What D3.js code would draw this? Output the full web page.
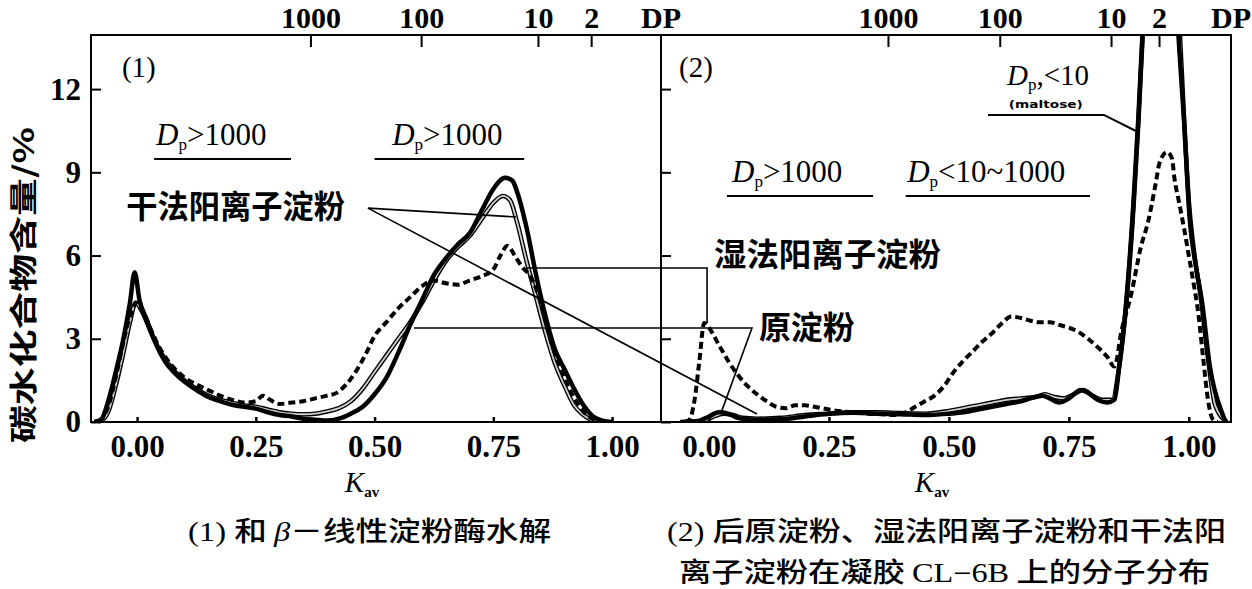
<!DOCTYPE html>
<html>
<head>
<meta charset="utf-8">
<script src="https://cdn.jsdelivr.net/npm/d3@7"></script>
<style>
  body { margin: 0; background: #fff; }
  svg { display: block; }
</style>
</head>
<body>
<div id="chart"></div>
<script>
// ---- data ----
const kTicks = [0, 0.25, 0.5, 0.75, 1.0]
const yTicks = [0, 3, 6, 9, 12]
const dpLabels = ["1000", "100", "10", "2"]
const dpPosLeft = [0.365, 0.598, 0.844, 0.956]
const dpPosRight = [0.373, 0.606, 0.838, 0.938]

// panel (1): after beta-amylase hydrolysis
const leftThickK = [-0.09,-0.075,-0.06,-0.045,-0.03,-0.015,-0.005,0.005,0.02,0.04,0.06,0.08,0.10,0.125,0.15,0.175,0.20,0.225,0.25,0.275,0.30,0.325,0.35,0.375,0.40,0.425,0.45,0.475,0.50,0.525,0.55,0.575,0.60,0.625,0.65,0.675,0.70,0.725,0.75,0.775,0.79,0.80,0.82,0.84,0.86,0.88,0.90,0.92,0.94,0.96,0.98,1.00]
const leftThickV = [0,0.1,0.8,1.8,2.9,4.3,5.4,4.4,3.7,2.8,2.15,1.75,1.45,1.15,0.9,0.75,0.62,0.55,0.48,0.35,0.25,0.2,0.12,0.08,0.05,0.12,0.3,0.55,1.0,1.6,2.5,3.5,4.4,5.3,5.9,6.4,6.8,7.6,8.4,8.8,8.7,8.3,7.0,5.3,3.8,2.6,1.9,1.2,0.6,0.2,0.05,0]
const leftGrayK = [-0.09,-0.075,-0.06,-0.045,-0.03,-0.015,-0.003,0.01,0.03,0.05,0.075,0.10,0.125,0.15,0.175,0.20,0.225,0.25,0.275,0.30,0.325,0.35,0.375,0.40,0.425,0.45,0.475,0.50,0.525,0.55,0.575,0.60,0.625,0.65,0.675,0.70,0.725,0.75,0.77,0.785,0.80,0.82,0.84,0.86,0.88,0.90,0.92,0.94,0.96,0.98]
const leftGrayV = [0,0.05,0.4,1.3,2.4,3.6,4.3,4.0,3.2,2.5,1.9,1.5,1.2,0.95,0.8,0.7,0.6,0.55,0.45,0.35,0.3,0.28,0.3,0.38,0.5,0.75,1.2,1.8,2.4,3.0,3.6,4.3,5.1,5.8,6.3,6.7,7.3,7.9,8.15,8.0,7.2,5.8,4.5,3.2,2.1,1.3,0.6,0.25,0.05,0]
const leftDashK = [-0.08,-0.06,-0.045,-0.03,-0.015,0.0,0.015,0.03,0.05,0.075,0.10,0.125,0.15,0.175,0.20,0.225,0.25,0.265,0.28,0.30,0.325,0.35,0.375,0.40,0.42,0.44,0.46,0.48,0.50,0.525,0.55,0.575,0.60,0.625,0.65,0.675,0.70,0.725,0.75,0.765,0.78,0.795,0.81,0.83,0.85,0.87,0.89,0.91,0.93,0.95,0.97,0.99]
const leftDashV = [0,0.6,1.6,2.8,3.8,4.3,3.9,3.3,2.6,2.0,1.6,1.35,1.15,0.95,0.8,0.7,0.75,0.95,0.8,0.65,0.7,0.75,0.85,0.95,1.05,1.35,1.8,2.4,3.1,3.6,4.1,4.5,4.9,5.1,5.0,4.95,5.1,5.25,5.5,6.0,6.35,6.0,5.6,5.2,4.3,3.0,2.0,1.2,0.6,0.2,0.05,0]

// panel (2): gel CL-6B distribution
const rightThickK = [-0.06,-0.02,0.0,0.02,0.04,0.06,0.08,0.10,0.15,0.20,0.25,0.30,0.35,0.40,0.45,0.50,0.53,0.56,0.59,0.62,0.65,0.67,0.695,0.71,0.73,0.75,0.775,0.79,0.81,0.83,0.845,0.855,0.87,0.885,0.895,0.905,0.92,0.94,0.96,0.975,0.98,0.99,1.002,1.015,1.027,1.044,1.07,1.077]
const rightThickV = [0,0.05,0.2,0.35,0.3,0.15,0.1,0.08,0.1,0.2,0.3,0.33,0.3,0.28,0.25,0.3,0.35,0.45,0.55,0.65,0.75,0.85,0.95,0.85,0.7,0.85,1.15,1.05,0.8,0.7,0.8,2.0,4.4,8.0,11.0,14.5,18,20,18,15,13.5,10.9,7.3,5.6,4.4,2.0,0.3,0]
const rightGrayK = [-0.05,-0.01,0.01,0.03,0.05,0.07,0.10,0.15,0.20,0.25,0.30,0.35,0.40,0.45,0.50,0.53,0.56,0.59,0.62,0.65,0.68,0.70,0.72,0.74,0.76,0.78,0.80,0.82,0.84,0.855,0.87,0.885,0.895,0.905,0.92,0.94,0.96,0.98,0.99,1.0,1.012,1.025,1.04,1.055,1.08]
const rightGrayV = [0,0.05,0.2,0.3,0.25,0.15,0.12,0.15,0.25,0.3,0.35,0.35,0.32,0.3,0.4,0.5,0.6,0.7,0.8,0.85,0.9,1.0,0.9,0.85,1.0,1.15,0.95,0.8,0.8,2.0,4.3,7.8,10.8,14.3,18,19.5,18,14.5,11,8.0,6.0,4.5,2.3,0.6,0]
const rightDashK = [-0.05,-0.04,-0.03,-0.02,-0.01,0.0,0.02,0.04,0.06,0.08,0.10,0.12,0.14,0.16,0.18,0.20,0.22,0.25,0.28,0.30,0.33,0.36,0.385,0.41,0.43,0.45,0.47,0.49,0.51,0.53,0.55,0.57,0.59,0.61,0.63,0.65,0.67,0.69,0.71,0.73,0.75,0.77,0.79,0.81,0.83,0.845,0.86,0.88,0.90,0.915,0.93,0.94,0.955,0.965,0.97,0.98,0.99,1.0,1.01,1.02,1.03,1.04,1.05,1.06]
const rightDashV = [0,0.1,0.8,2.2,3.57,3.4,2.8,2.2,1.7,1.3,1.0,0.75,0.55,0.5,0.6,0.6,0.55,0.45,0.38,0.35,0.3,0.28,0.25,0.35,0.55,0.75,0.95,1.3,1.8,2.2,2.55,2.9,3.2,3.55,3.8,3.75,3.65,3.6,3.6,3.5,3.4,3.25,3.0,2.7,2.35,2.0,3.3,4.6,6.3,7.2,8.5,9.4,9.73,9.5,8.8,7.9,7.0,6.0,5.0,3.9,2.3,0.8,0.1,0]

// ---- layout ----
const W = 1252, H = 589
const yTop = 35, yBot = 422
const serif = "'Liberation Serif', 'Times New Roman', serif"
const cjk = "'Noto Sans CJK SC', 'Noto Sans', sans-serif"

const svg = d3.select("#chart").append("svg")
  .attr("width", W).attr("height", H)
  .attr("viewBox", `0 0 ${W} ${H}`)
svg.append("rect").attr("width", W).attr("height", H).attr("fill", "#fff")

const y = d3.scaleLinear().domain([0, 13.95]).range([yBot, yTop])
const xL = d3.scaleLinear().domain([-0.097, 1.103]).range([91, 661])
const xR = d3.scaleLinear().domain([-0.1, 1.088]).range([661, 1231])

const zip = (ks, vs) => ks.map((k, i) => [k, vs[i]])

function drawPanel(id, x, dpPos, series, showYLabels) {
  const g = svg.append("g").attr("class", "panel-" + id)
  const [x0, x1] = x.range()

  g.append("clipPath").attr("id", "clip-" + id)
    .append("rect").attr("x", x0).attr("y", yTop).attr("width", x1 - x0).attr("height", yBot - yTop)

  // curves
  const line = d3.line()
    .x(d => x(d[0])).y(d => y(d[1]))
    .curve(d3.curveMonotoneX)
  const cg = g.append("g").attr("clip-path", `url(#clip-${id})`)
  series.forEach(s => {
    const d = line(zip(s.k, s.v))
    if (s.style === "gray") {
      cg.append("path").attr("d", d).attr("fill", "none").attr("stroke", "#000").attr("stroke-width", 4.5)
      cg.append("path").attr("d", d).attr("fill", "none").attr("stroke", "#cfcfcf").attr("stroke-width", 1.8)
    } else if (s.style === "dash") {
      cg.append("path").attr("d", d).attr("fill", "none").attr("stroke", "#000")
        .attr("stroke-width", 4).attr("stroke-dasharray", "7 4")
    } else {
      cg.append("path").attr("d", d).attr("fill", "none").attr("stroke", "#000").attr("stroke-width", 4.5)
    }
  })

  // bottom axis
  const xb = g.append("g").attr("transform", `translate(0,${yBot})`)
    .call(d3.axisBottom(x).tickValues(kTicks).tickSize(-5).tickPadding(13).tickFormat(d3.format(".2f")))
  xb.select(".domain").remove()
  xb.selectAll("line").attr("stroke-width", 2.5)
  xb.selectAll("text").attr("font-family", serif).attr("font-size", 31).attr("font-weight", "bold").attr("fill", "#000")

  // top DP axis
  const xt = g.append("g").attr("transform", `translate(0,${yTop})`)
    .call(d3.axisTop(x).tickValues(dpPos).tickSize(-12).tickPadding(7).tickFormat((d, i) => dpLabels[i]))
  xt.select(".domain").remove()
  xt.selectAll("line").attr("stroke-width", 2)
  xt.selectAll("text").attr("font-family", serif).attr("font-size", 30).attr("font-weight", "bold").attr("fill", "#000")
  g.append("text").attr("x", x1).attr("y", yTop - 7).attr("text-anchor", "middle")
    .attr("font-family", serif).attr("font-size", 30).attr("font-weight", "bold").text("DP")

  // left y axis (inner ticks)
  const ya = g.append("g").attr("transform", `translate(${x0},0)`)
    .call(d3.axisLeft(y).tickValues(yTicks).tickSize(-10).tickPadding(10)
      .tickFormat(showYLabels ? d3.format("d") : ""))
  ya.select(".domain").remove()
  ya.selectAll("line").attr("stroke-width", 2)
  ya.selectAll("text").attr("font-family", serif).attr("font-size", 31).attr("font-weight", "bold").attr("fill", "#000")

  // frame
  g.append("rect").attr("x", x0).attr("y", yTop).attr("width", x1 - x0).attr("height", yBot - yTop)
    .attr("fill", "none").attr("stroke", "#000").attr("stroke-width", 2)

  // K_av label
  const kt = g.append("text").attr("x", (x0 + x1) / 2 - 14).attr("y", 492).attr("text-anchor", "middle")
    .attr("font-family", serif).attr("font-size", 29)
  kt.append("tspan").attr("font-style", "italic").text("K")
  kt.append("tspan").attr("font-size", 15).attr("font-weight", "bold").attr("dy", 5).text("av")
  return g
}

drawPanel("L", xL, dpPosLeft, [
  { k: leftGrayK, v: leftGrayV, style: "gray" },
  { k: leftDashK, v: leftDashV, style: "dash" },
  { k: leftThickK, v: leftThickV, style: "thick" }
], true)
drawPanel("R", xR, dpPosRight, [
  { k: rightGrayK, v: rightGrayV, style: "gray" },
  { k: rightDashK, v: rightDashV, style: "dash" },
  { k: rightThickK, v: rightThickV, style: "thick" }
], false)

// ---- annotations ----
const ann = svg.append("g").attr("class", "annotations")

function plainText(x, yb, txt, size, opts = {}) {
  const t = ann.append("text").attr("x", x).attr("y", yb)
    .attr("font-family", opts.family || serif).attr("font-size", size)
    .attr("font-weight", opts.weight || "normal").text(txt)
  if (opts.len) t.attr("textLength", opts.len).attr("lengthAdjust", "spacingAndGlyphs")
  return t
}

function dpText(x, yb, rest, size = 31) {
  const t = ann.append("text").attr("x", x).attr("y", yb)
    .attr("font-family", serif).attr("font-size", size)
  t.append("tspan").attr("font-style", "italic").text("D")
  t.append("tspan").attr("font-size", 17).attr("dy", 5).text("p")
  t.append("tspan").attr("dy", -5).text(rest)
  return t
}

function polyline(pts, w = 1.6) {
  ann.append("path").attr("d", d3.line()(pts)).attr("fill", "none")
    .attr("stroke", "#000").attr("stroke-width", w)
}

// panel numbers
plainText(xL(-0.032), y(12.44), "(1)", 29)
plainText(xR(-0.0625), y(12.44), "(2)", 29)

// D_p labels and underlines
dpText(xL(0.04), y(10.0), ">1000")
dpText(xL(0.537), y(10.0), ">1000")
polyline([[xL(0.036), y(9.48)], [xL(0.324), y(9.48)]], 2)
polyline([[xL(0.50), y(9.48)], [xL(0.815), y(9.48)]], 2)

dpText(xR(0.048), y(8.65), ">1000")
dpText(xR(0.413), y(8.65), "<10~1000")
polyline([[xR(0.0375), y(8.15)], [xR(0.342), y(8.15)]], 2)
polyline([[xR(0.41), y(8.15)], [xR(0.794), y(8.15)]], 2)

dpText(xR(0.621), y(12.15), ",<10", 29)
plainText(xR(0.625), y(11.33), "(maltose)", 11, { family: "'DejaVu Sans', sans-serif", weight: "bold", len: 74 })
polyline([[xR(0.5815), y(11.07)], [xR(0.823), y(11.07)], [xR(0.89), y(10.49)]], 2)

// sample labels
plainText(xL(-0.023), y(7.35), "干法阳离子淀粉", 32, { family: cjk, weight: "bold", len: 219 })
plainText(xR(0.0104), y(5.62), "湿法阳离子淀粉", 32, { family: cjk, weight: "bold", len: 227 })
plainText(xR(0.104), y(2.99), "原淀粉", 32, { family: cjk, weight: "bold", len: 96 })

// leader lines
polyline([[xL(0.486), y(7.71)], [xL(0.798), y(7.39)]])
polyline([[xL(0.486), y(7.71)], [xR(0.1), y(0.29)]])
polyline([[xL(0.819), y(5.55)], [xR(-0.004), y(5.55)], [xR(-0.004), y(3.57)]])
polyline([[xL(0.583), y(3.39)], [xR(0.0896), y(3.39)], [xR(0.025), y(0.32)]])

// y axis title
svg.append("text")
  .attr("transform", "translate(34,285) rotate(-90)")
  .attr("text-anchor", "middle")
  .attr("font-family", cjk).attr("font-size", 28).attr("font-weight", "bold")
  .attr("textLength", 316).attr("lengthAdjust", "spacingAndGlyphs")
  .text("碳水化合物含量/%")

// captions
function caption(x, yb, parts, len) {
  const t = svg.append("text").attr("x", x).attr("y", yb).attr("font-size", 27)
    .attr("textLength", len).attr("lengthAdjust", "spacingAndGlyphs")
  parts.forEach(p => {
    const s = t.append("tspan").attr("font-family", p.latin ? serif : cjk).text(p.t)
    if (p.italic) s.attr("font-style", "italic")
    if (!p.latin) s.attr("font-weight", 500)
  })
}
caption(188, 541, [{ t: "(1) ", latin: true }, { t: "和 " }, { t: "β", latin: true, italic: true }, { t: "－线性淀粉酶水解" }], 363)
caption(667, 541, [{ t: "(2) ", latin: true }, { t: "后原淀粉、湿法阳离子淀粉和干法阳" }], 559)
caption(679, 582, [{ t: "离子淀粉在凝胶 " }, { t: "CL−6B", latin: true }, { t: " 上的分子分布" }], 531)
</script>
</body>
</html>
